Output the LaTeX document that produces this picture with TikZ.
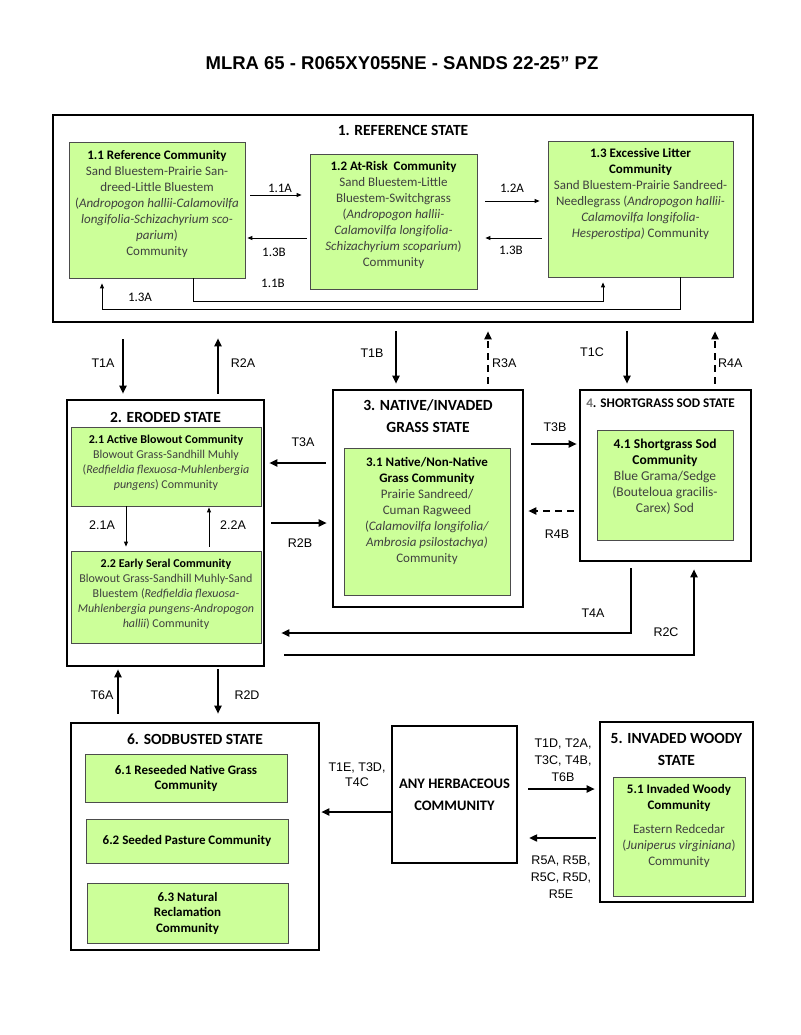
\documentclass[tikz,border=0pt]{standalone}
\usepackage{fontspec}
\setmainfont{Liberation Sans}
\newfontfamily\calfont{Carlito}
\usetikzlibrary{arrows.meta,positioning}
\definecolor{commgreen}{HTML}{CCFF99}

\tikzset{
  state/.style={draw=black, line width=2.6pt, fill=white, inner sep=0pt},
  comm/.style={draw=black!70, line width=0.8pt, fill=commgreen, inner sep=0pt},
  commtext/.style={font=\calfont\fontsize{13}{16}\selectfont, text=black!75, align=center, inner sep=0pt},
  smalltext/.style={commtext, font=\calfont\fontsize{12}{15}\selectfont},
  stitle/.style={font=\calfont\bfseries\fontsize{15.5}{22}\selectfont, align=center, inner sep=0pt},
  lbl/.style={font=\fontsize{12.5}{17}\selectfont, align=center, inner sep=0pt},
  clbl/.style={font=\calfont\fontsize{13}{14}\selectfont, inner sep=0pt},
  arr/.style={->, line width=1.8pt},
  darr/.style={arr, dash pattern=on 7pt off 5pt},
  tarr/.style={-{Triangle[length=5pt,width=4pt]}, line width=0.9pt},
}

\begin{document}
\begin{tikzpicture}[x=1pt, y=-1pt, >={Triangle[length=8pt,width=7pt]}]
\useasboundingbox (0,0) rectangle (800,1035);

\node[font=\bfseries\fontsize{18.5}{20}\selectfont] (title) at (402,63) {MLRA 65 - R065XY055NE - SANDS 22-25” PZ};

% 1. reference state
\node[state, minimum width=700pt, minimum height=207pt] (rs) at (403,218.5) {};
\node[stitle, below=11pt of rs.north] (rst) {1. REFERENCE STATE};

\node[comm, minimum width=176pt, minimum height=136pt] (b11) at (157,210) {};
\node[commtext, below=9pt of b11.north] (t11) {\textbf{\color{black}1.1 Reference Community}\\
  Sand Bluestem-Prairie San-\\dreed-Little Bluestem\\
  (\textit{Andropogon hallii-Calamovilfa}\\\textit{longifolia-Schizachyrium sco-}\\
  \textit{parium})\\Community};

\node[comm, minimum width=167pt, minimum height=135pt] (b12) at (393.5,221.5) {};
\node[commtext, below=8pt of b12.north] (t12) {\textbf{\color{black}1.2 At-Risk\ \ Community}\\
  Sand Bluestem-Little\\Bluestem-Switchgrass\\(\textit{Andropogon hallii-}\\
  \textit{Calamovilfa longifolia-}\\\textit{Schizachyrium scoparium})\\Community};

\node[comm, minimum width=185pt, minimum height=136pt] (b13) at (640.5,209) {};
\node[commtext, below=8pt of b13.north] (t13) {\textbf{\color{black}1.3 Excessive Litter}\\
  \textbf{\color{black}Community}\\Sand Bluestem-Prairie Sandreed-\\
  Needlegrass (\textit{Andropogon hallii-}\\\textit{Calamovilfa longifolia-}\\
  \textit{Hesperostipa)} Community};

% 2. eroded state
\node[state, minimum width=197pt, minimum height=266pt] (s2) at (165.5,533) {};
\node[stitle, below=13pt of s2.north] (s2t) {2. ERODED STATE};
\node[comm, minimum width=190pt, minimum height=79pt] (b21) at (166,466.5) {};
\node[smalltext, below=8pt of b21.north] (t21) {\textbf{\color{black}2.1 Active Blowout Community}\\
  Blowout Grass-Sandhill Muhly\\(\textit{Redfieldia flexuosa-Muhlenbergia}\\
  \textit{pungens}) Community};
\node[comm, minimum width=190pt, minimum height=92pt] (b22) at (166,597) {};
\node[smalltext, below=8pt of b22.north] (t22) {\textbf{\color{black}2.2 Early Seral Community}\\
  Blowout Grass-Sandhill Muhly-Sand\\Bluestem (\textit{Redfieldia flexuosa-}\\
  \textit{Muhlenbergia pungens-Andropogon}\\\textit{hallii}) Community};

% 3. native/invaded grass state
\node[state, minimum width=190pt, minimum height=217pt] (s3) at (428,498.5) {};
\node[stitle, below=11pt of s3.north] (s3t) {3. NATIVE/INVADED\\GRASS STATE};
\node[comm, minimum width=166pt, minimum height=147pt] (b31) at (427,521.5) {};
\node[commtext, below=10pt of b31.north] (t31) {\textbf{\color{black}3.1 Native/Non-Native}\\
  \textbf{\color{black}Grass Community}\\Prairie Sandreed/\\Cuman Ragweed\\
  (\textit{Calamovilfa longifolia/}\\\textit{Ambrosia psilostachya)}\\Community};

% 4. shortgrass sod state
\node[state, minimum width=171pt, minimum height=171pt] (s4) at (665.5,475.5) {};
\node[stitle, font=\calfont\bfseries\fontsize{13.2}{16}\selectfont, below=10pt of s4.north, xshift=-5pt] (s4t) {{\color{black!55}4}. SHORTGRASS SOD STATE};
\node[comm, minimum width=136pt, minimum height=110pt] (b41) at (665,485) {};
\node[commtext, font=\calfont\fontsize{13.5}{16}\selectfont, below=9pt of b41.north] (t41) {\textbf{\color{black}4.1 Shortgrass Sod}\\
  \textbf{\color{black}Community}\\Blue Grama/Sedge\\(Bouteloua gracilis-\\Carex) Sod};

% 6. sodbusted state
\node[state, minimum width=248pt, minimum height=227pt] (s6) at (195,836.5) {};
\node[stitle, below=12pt of s6.north] (s6t) {6. SODBUSTED STATE};
\node[comm, commtext, text=black, font=\calfont\bfseries\fontsize{13}{15}\selectfont,
  minimum width=202pt, minimum height=48pt] (b61) at (186,778) {6.1 Reseeded Native Grass\\Community};
\node[comm, commtext, text=black, font=\calfont\bfseries\fontsize{13}{15}\selectfont,
  minimum width=202pt, minimum height=44pt] (b62) at (187,841) {6.2 Seeded Pasture Community};
\node[comm, commtext, text=black, font=\calfont\bfseries\fontsize{13}{15.5}\selectfont,
  minimum width=201pt, minimum height=60pt] (b63) at (187.5,913) {6.3 Natural\\Reclamation\\Community};

% any herbaceous community
\node[state, line width=2.2pt, stitle, font=\calfont\bfseries\fontsize{14.5}{22}\selectfont,
  minimum width=125pt, minimum height=137pt] (herb) at (454.5,794.5) {ANY HERBACEOUS\\COMMUNITY};

% 5. invaded woody state
\node[state, minimum width=153pt, minimum height=180pt] (s5) at (676.5,812) {};
\node[stitle, below=12pt of s5.north] (s5t) {5. INVADED WOODY\\STATE};
\node[comm, minimum width=132pt, minimum height=119pt] (b51) at (679,836.5) {};
\node[commtext, below=8pt of b51.north] (t51) {\textbf{\color{black}5.1 Invaded Woody}\\
  \textbf{\color{black}Community}\\[8pt]Eastern Redcedar\\(\textit{Juniperus virginiana})\\Community};

% pathways inside the reference state
\draw[tarr, shorten <=5pt, shorten >=8pt] (b11.east |- 0,195) -- (b12.west |- 0,195);
\draw[tarr, shorten <=3pt, shorten >=2pt] (b12.west |- 0,238) -- (b11.east |- 0,238);
\draw[tarr, shorten <=8pt, shorten >=8pt] (b12.east |- 0,201) -- (b13.west |- 0,201);
\draw[tarr, shorten <=6pt, shorten >=8pt] (b13.west |- 0,238) -- (b12.east |- 0,238);
\draw[tarr, shorten >=5pt] (b11.south -| 193,0) -- ++(0,23) -| (b13.south -| 603,0);
\draw[tarr, shorten >=5pt] (b13.south -| 680,0) -- ++(0,32) -| (b11.south -| 102,0);
\node[clbl] (l11a) at (280,188) {1.1A};
\node[clbl] (l13b) at (274,252) {1.3B};
\node[clbl] (l11b) at (273,283) {1.1B};
\node[clbl] (l13a) at (140,297) {1.3A};
\node[clbl] (l12a) at (512,188) {1.2A};
\node[clbl] (l13c) at (511,250) {1.3B};

% transitions and restorations
\draw[arr, shorten <=16pt, shorten >=5pt] (rs.south -| 123,0) -- (s2.north -| 123,0);
\draw[arr, shorten <=5pt, shorten >=15pt] (s2.north -| 218,0) -- (rs.south -| 218,0);
\draw[arr, shorten <=8pt, shorten >=5pt] (rs.south -| 396,0) -- (s3.north -| 396,0);
\draw[darr, shorten <=5pt, shorten >=8pt] (s3.north -| 488,0) -- (rs.south -| 488,0);
\draw[arr, shorten <=8pt, shorten >=5pt] (rs.south -| 627,0) -- (s4.north -| 627,0);
\draw[darr, shorten <=5pt, shorten >=8pt] (s4.north -| 715,0) -- (rs.south -| 715,0);
\draw[arr, shorten <=6pt, shorten >=4pt] (s3.west |- 0,463) -- (s2.east |- 0,463);
\draw[arr, shorten <=6pt, shorten >=5pt] (s2.east |- 0,523) -- (s3.west |- 0,523);
\draw[arr, shorten <=7pt, shorten >=2pt] (s3.east |- 0,444) -- (s4.west |- 0,444);
\draw[darr, shorten <=5pt, shorten >=4pt] (s4.west |- 0,511) -- (s3.east |- 0,511);
\draw[arr, shorten <=6pt, shorten >=16pt] (s4.south -| 631,0) |- (s2.east |- 0,633);
\draw[arr, shorten <=19pt, shorten >=7pt] (s2.east |- 0,655) -| (s4.south -| 694,0);
\draw[tarr, shorten >=4pt] (b21.south -| 126,0) -- (b22.north -| 126,0);
\draw[tarr, shorten <=4pt, shorten >=1pt] (b22.north -| 209,0) -- (b21.south -| 209,0);
\draw[arr, shorten <=8pt, shorten >=2pt] (s6.north -| 118,0) -- (s2.south -| 118,0);
\draw[arr, shorten <=2pt, shorten >=8pt] (s2.south -| 218,0) -- (s6.north -| 218,0);
\draw[arr, shorten >=1pt] (herb.west |- 0,812) -- (s6.east |- 0,812);
\draw[arr, shorten <=10pt, shorten >=4pt] (herb.east |- 0,789) -- (s5.west |- 0,789);
\draw[arr, shorten <=3pt, shorten >=11pt] (s5.west |- 0,838) -- (herb.east |- 0,838);

\node[lbl] (t1a) at (103,363) {T1A};
\node[lbl] (r2a) at (243,363) {R2A};
\node[lbl] (t1b) at (372,353) {T1B};
\node[lbl, anchor=west] (r3a) at (492,363) {R3A};
\node[lbl] (t1c) at (592,352) {T1C};
\node[lbl, anchor=west] (r4a) at (718,363) {R4A};
\node[lbl] (t3a) at (303,442) {T3A};
\node[lbl] (r2b) at (300,543) {R2B};
\node[lbl] (t3b) at (555,427) {T3B};
\node[lbl] (r4b) at (557,534) {R4B};
\node[lbl] (t4a) at (593,613) {T4A};
\node[lbl] (r2c) at (666,632) {R2C};
\node[lbl] (l21a) at (102,525) {2.1A};
\node[lbl] (l22a) at (233,525) {2.2A};
\node[lbl] (t6a) at (102,695) {T6A};
\node[lbl] (r2d) at (247,695) {R2D};
\node[lbl, font=\fontsize{12.5}{15}\selectfont] (t1e) at (357,775) {T1E, T3D,\\T4C};
\node[lbl] (t1d) at (563,760) {T1D, T2A,\\T3C, T4B,\\T6B};
\node[lbl] (r5a) at (561,877) {R5A, R5B,\\R5C, R5D,\\R5E};
\end{tikzpicture}
\end{document}
